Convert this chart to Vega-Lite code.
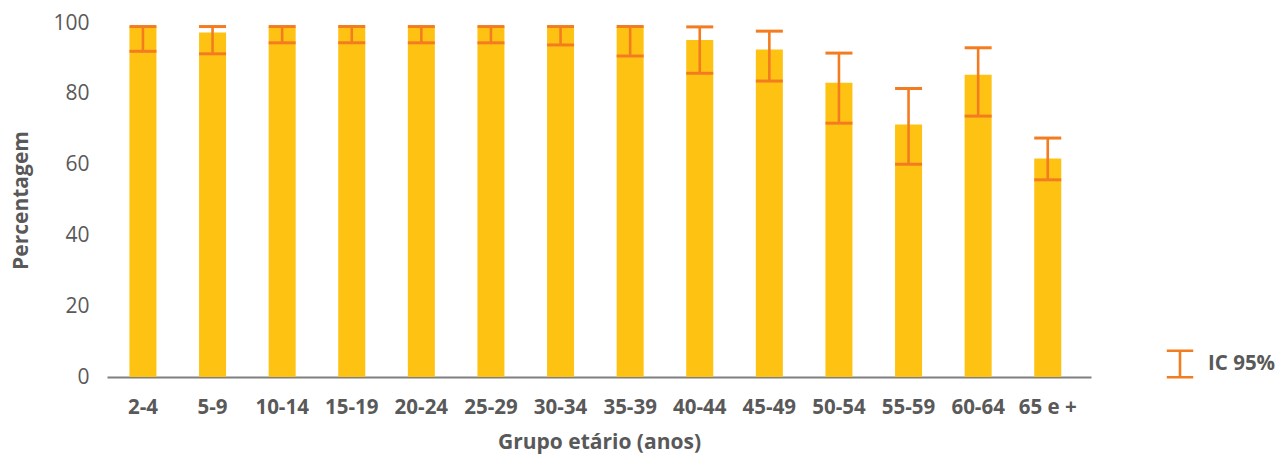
{
  "$schema": "https://vega.github.io/schema/vega-lite/v6.json",
  "autosize": "none",
  "width": 984,
  "height": 354,
  "padding": {"left": 107, "top": 23, "right": 188, "bottom": 78},
  "data": {
    "values": [
      {"grupo": "2-4", "valor": 99.0, "inf": 92.0, "sup": 99.0},
      {"grupo": "5-9", "valor": 97.3, "inf": 91.3, "sup": 99.0},
      {"grupo": "10-14", "valor": 99.0, "inf": 94.4, "sup": 99.0},
      {"grupo": "15-19", "valor": 99.0, "inf": 94.4, "sup": 99.0},
      {"grupo": "20-24", "valor": 99.0, "inf": 94.4, "sup": 99.0},
      {"grupo": "25-29", "valor": 99.0, "inf": 94.4, "sup": 99.0},
      {"grupo": "30-34", "valor": 99.0, "inf": 93.8, "sup": 99.0},
      {"grupo": "35-39", "valor": 99.0, "inf": 90.7, "sup": 99.0},
      {"grupo": "40-44", "valor": 95.2, "inf": 85.8, "sup": 98.9},
      {"grupo": "45-49", "valor": 92.5, "inf": 83.6, "sup": 97.7},
      {"grupo": "50-54", "valor": 83.1, "inf": 71.7, "sup": 91.5},
      {"grupo": "55-59", "valor": 71.3, "inf": 60.1, "sup": 81.5},
      {"grupo": "60-64", "valor": 85.4, "inf": 73.7, "sup": 93.0},
      {"grupo": "65 e +", "valor": 61.7, "inf": 55.7, "sup": 67.5}
    ]
  },
  "encoding": {
    "x": {
      "field": "grupo",
      "type": "nominal",
      "sort": null,
      "scale": {"paddingInner": 0.612, "paddingOuter": 0.375, "align": 0.43},
      "axis": {
        "title": "Grupo etário (anos)",
        "labelAngle": 0,
        "ticks": false,
        "domainColor": "#7f7f7f",
        "domainWidth": 2,
        "labelFont": "Open Sans",
        "labelFontSize": 20.5,
        "labelFontWeight": "bold",
        "labelColor": "#595959",
        "labelPadding": 20,
        "titleFont": "Open Sans",
        "titleFontSize": 21,
        "titleFontWeight": "bold",
        "titleColor": "#595959",
        "titlePadding": 14
      }
    }
  },
  "layer": [
    {
      "mark": {"type": "bar", "color": "#FEC312"},
      "encoding": {
        "y": {
          "field": "valor",
          "type": "quantitative",
          "scale": {"domain": [0, 100], "nice": false},
          "axis": {
            "title": "Percentagem",
            "values": [0, 20, 40, 60, 80, 100],
            "ticks": false,
            "domain": false,
            "grid": false,
            "labelFont": "Open Sans",
            "labelFontSize": 21,
            "labelColor": "#595959",
            "labelPadding": 18,
            "titleFont": "Open Sans",
            "titleFontSize": 21,
            "titleFontWeight": "bold",
            "titleColor": "#595959",
            "titlePadding": 21
          }
        }
      }
    },
    {
      "mark": {"type": "rule", "strokeWidth": 2.6},
      "encoding": {
        "y": {"field": "inf", "type": "quantitative"},
        "y2": {"field": "sup"},
        "stroke": {
          "datum": "IC 95%",
          "type": "nominal",
          "scale": {"range": ["#F47C20"]},
          "legend": {
            "title": null,
            "orient": "none",
            "legendX": 1058,
            "legendY": 326,
            "symbolType": "M-1,-1H1M0,-1V1M-1,1H1",
            "symbolSize": 700,
            "symbolStrokeWidth": 2.6,
            "symbolStrokeColor": "#F47C20",
            "labelFont": "Open Sans",
            "labelFontSize": 20.5,
            "labelFontWeight": "bold",
            "labelColor": "#595959",
            "labelOffset": 13
          }
        }
      }
    },
    {
      "mark": {"type": "tick", "color": "#F47C20", "thickness": 3, "size": 27, "opacity": 1},
      "encoding": {"y": {"field": "inf", "type": "quantitative"}}
    },
    {
      "mark": {"type": "tick", "color": "#F47C20", "thickness": 3, "size": 27, "opacity": 1},
      "encoding": {"y": {"field": "sup", "type": "quantitative"}}
    }
  ],
  "config": {"view": {"stroke": null}}
}
